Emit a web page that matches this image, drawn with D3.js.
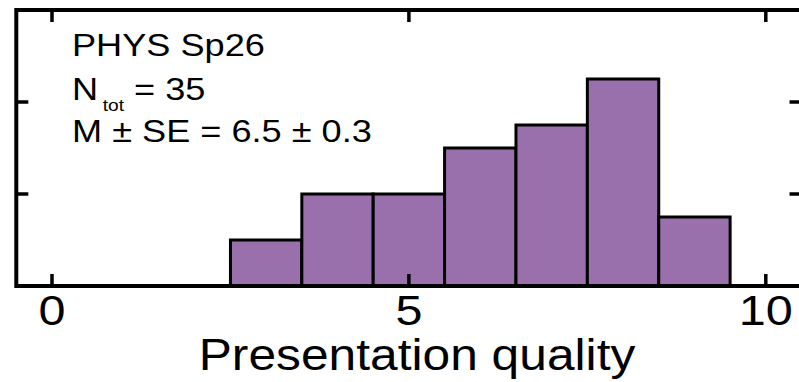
<!DOCTYPE html>
<html>
<head>
<meta charset="utf-8">
<script src="https://cdn.jsdelivr.net/npm/d3@7"></script>
<style>
  body { margin: 0; background: #fff; }
  svg { display: block; }
  text { font-family: "Liberation Sans", Arial, Helvetica, sans-serif; fill: #000; }
</style>
</head>
<body>
<svg></svg>
<script>
// histogram data
var scores = [3, 4, 5, 6, 7, 8, 9];
var counts = [2, 4, 4, 6, 7, 9, 3];
var xTicks = [0, 5, 10];
var yTicks = [4, 8];
var infoLines = ['PHYS Sp26', 'N_tot = 35', 'M \u00b1 SE = 6.5 \u00b1 0.3'];
var xLabel = 'Presentation quality';

var width = 799, height = 382;
var stretch = 1.13; // text in the picture is a bit wide
var xMax = 10.5;

var svg = d3.select('svg')
    .attr('width', width)
    .attr('height', height);

var xScale = d3.scaleLinear()
    .domain([-0.5, xMax])
    .range([16.3, 801.5]);

var yScale = d3.scaleLinear()
    .domain([0, 12])
    .range([286, 10]);

var bins = scores.map((s, i) => ({ score: s, count: counts[i] }));

// bars
svg.append('g')
  .selectAll('rect')
  .data(bins)
  .enter()
  .append('rect')
    .attr('x', d => xScale(d.score - 0.5))
    .attr('y', d => yScale(d.count))
    .attr('width', d => xScale(d.score + 0.5) - xScale(d.score - 0.5))
    .attr('height', d => yScale(0) - yScale(d.count))
    .attr('fill', '#9970ab')
    .attr('stroke', '#000')
    .attr('stroke-width', 3);

// inward ticks on all four sides
var tickLen = 12;
var axes = svg.append('g')
    .attr('stroke', '#000')
    .attr('stroke-width', 3.5);

xTicks.forEach(t => {
  axes.append('line')
    .attr('x1', xScale(t)).attr('x2', xScale(t))
    .attr('y1', yScale(0)).attr('y2', yScale(0) - tickLen);
  axes.append('line')
    .attr('x1', xScale(t)).attr('x2', xScale(t))
    .attr('y1', yScale(12)).attr('y2', yScale(12) + tickLen);
});

yTicks.forEach(t => {
  axes.append('line')
    .attr('x1', xScale(-0.5)).attr('x2', xScale(-0.5) + tickLen)
    .attr('y1', yScale(t)).attr('y2', yScale(t));
  axes.append('line')
    .attr('x1', xScale(xMax)).attr('x2', xScale(xMax) - tickLen)
    .attr('y1', yScale(t)).attr('y2', yScale(t));
});

// frame
svg.append('rect')
    .attr('x', xScale(-0.5))
    .attr('y', yScale(12))
    .attr('width', xScale(xMax) - xScale(-0.5))
    .attr('height', yScale(0) - yScale(12))
    .attr('fill', 'none')
    .attr('stroke', '#000')
    .attr('stroke-width', 4);

// tick labels
svg.append('g')
  .selectAll('text')
  .data(xTicks)
  .enter()
  .append('text')
    .attr('transform', d => `translate(${xScale(d)}, 325) scale(${stretch}, 1)`)
    .attr('text-anchor', 'middle')
    .style('font-size', '43px')
    .text(d => d);

// x-axis label
svg.append('text')
    .attr('transform', `translate(417, 370) scale(${stretch}, 1)`)
    .attr('text-anchor', 'middle')
    .style('font-size', '44px')
    .text(xLabel);

// info text
var info = svg.append('g')
    .attr('transform', `translate(72, 0) scale(${stretch}, 1)`);

info.append('text')
    .attr('y', 56)
    .style('font-size', '32px')
    .text(infoLines[0]);

var nLine = info.append('text')
    .attr('y', 100)
    .style('font-size', '32px');
nLine.append('tspan').text('N');
nLine.append('tspan')
    .attr('dx', 4)
    .attr('dy', 11)
    .style('font-size', '17px')
    .text('tot');
nLine.append('tspan')
    .attr('dy', -11)
    .text(' = 35');

info.append('text')
    .attr('y', 142)
    .style('font-size', '32px')
    .text(infoLines[2]);
</script>
</body>
</html>
